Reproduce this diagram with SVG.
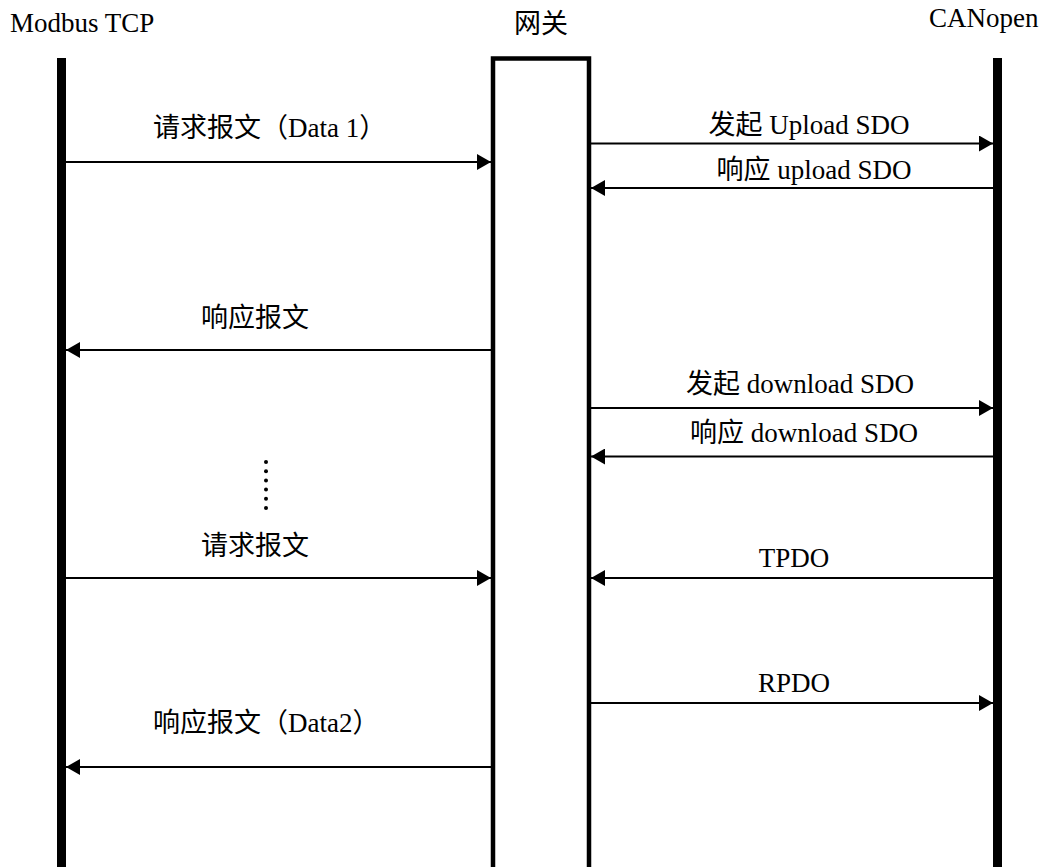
<svg xmlns="http://www.w3.org/2000/svg" width="1044" height="867" viewBox="0 0 1044 867">
<style>
text{font-family:"Liberation Serif","Noto Sans CJK SC",serif;font-size:27px;fill:#000}
.msg{stroke:#000;stroke-width:2;fill:none;marker-end:url(#ah)}
.life{fill:#000}
.mid{text-anchor:middle}
</style>
<defs>
<marker id="ah" viewBox="0 0 14 16" refX="14" refY="8" markerWidth="14" markerHeight="16" markerUnits="userSpaceOnUse" orient="auto">
<path d="M0,0L14,8L0,16Z" fill="#000"/>
</marker>
</defs>
<rect width="1044" height="867" fill="#fff"/>
<g id="modbus">
<text x="10" y="32">Modbus TCP</text>
<rect class="life" x="57" y="58" width="9" height="820"/>
</g>
<g id="gateway">
<text class="mid" x="541" y="33">网关</text>
<path d="M493,880V58.5H589V880" fill="none" stroke="#000" stroke-width="4.5"/>
</g>
<g id="canopen">
<text x="929" y="27">CANopen</text>
<rect class="life" x="993" y="58" width="9" height="820"/>
</g>
<g id="connectors">
<line class="msg" x1="66" y1="162" x2="491" y2="162"/>
<line class="msg" x1="591" y1="143.5" x2="993" y2="143.5"/>
<line class="msg" x1="993" y1="188" x2="591" y2="188"/>
<line class="msg" x1="491" y1="350" x2="66" y2="350"/>
<line class="msg" x1="591" y1="408" x2="993" y2="408"/>
<line class="msg" x1="993" y1="456.5" x2="591" y2="456.5"/>
<line class="msg" x1="66" y1="578" x2="491" y2="578"/>
<line class="msg" x1="993" y1="578" x2="591" y2="578"/>
<line class="msg" x1="591" y1="703" x2="993" y2="703"/>
<line class="msg" x1="491" y1="767" x2="66" y2="767"/>
</g>
<g id="labels">
<text x="153" y="137">请求报文（Data 1）</text>
<text class="mid" x="809" y="134">发起 Upload SDO</text>
<text class="mid" x="814" y="179">响应 upload SDO</text>
<text class="mid" x="255" y="327">响应报文</text>
<text class="mid" x="800" y="393">发起 download SDO</text>
<text class="mid" x="804" y="442">响应 download SDO</text>
<text class="mid" x="255" y="555">请求报文</text>
<text class="mid" x="794" y="567">TPDO</text>
<text class="mid" x="794" y="692">RPDO</text>
<text x="153" y="732">响应报文（Data2）</text>
</g>
<g id="ellipsis" fill="#000">
<circle cx="266" cy="462" r="2"/>
<circle cx="266" cy="471.2" r="2"/>
<circle cx="266" cy="480.4" r="2"/>
<circle cx="266" cy="489.6" r="2"/>
<circle cx="266" cy="498.8" r="2"/>
<circle cx="266" cy="508" r="2"/>
</g>
</svg>
